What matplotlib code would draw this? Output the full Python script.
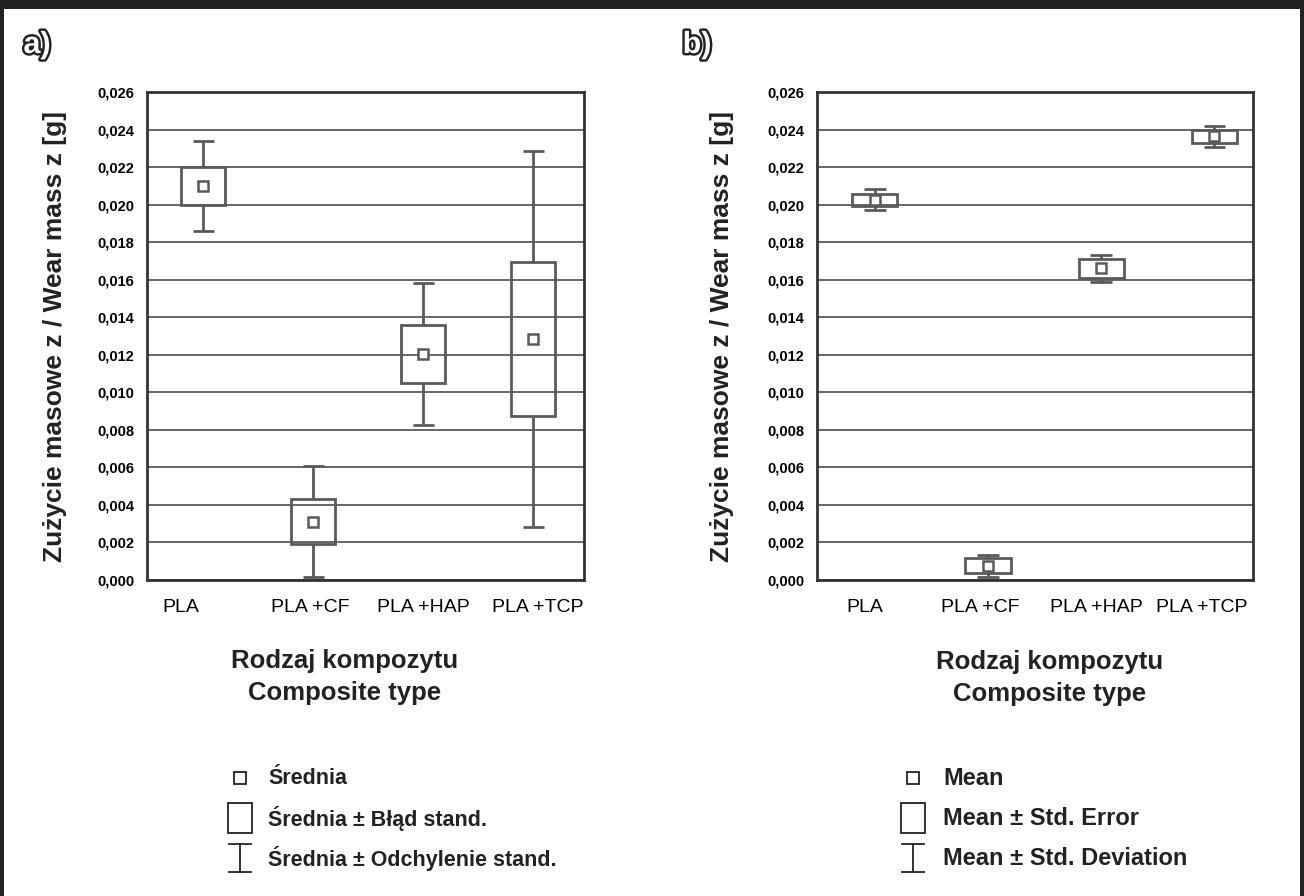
import matplotlib
matplotlib.use("Agg")
import matplotlib.pyplot as plt
import matplotlib.patheffects as pe
import matplotlib.transforms as mtransforms
from matplotlib.patches import Rectangle
from matplotlib.lines import Line2D
from matplotlib import font_manager
import numpy as np

# Data
categories = ["PLA", "PLA +CF", "PLA +HAP", "PLA +TCP"]

# panel a
mean_a = [0.0210, 0.0031, 0.01205, 0.01285]
se_a = [0.0010, 0.0012, 0.00155, 0.0041]
sd_a = [0.0024, 0.00295, 0.0038, 0.0100]

# panel b
mean_b = [0.02027, 0.00075, 0.0166, 0.02363]
se_b = [0.00032, 0.0004, 0.0005, 0.00033]
sd_b = [0.00056, 0.0006, 0.00073, 0.00056]

y_ticks = np.arange(0, 0.0261, 0.002)
y_tick_labels = [f"{v:.3f}".replace(".", ",") for v in y_ticks]

ylabel = "Zużycie masowe z / Wear mass z [g]"
xlabel = "Rodzaj kompozytu\nComposite type"
legend_pl = ["Średnia", "Średnia ± Błąd stand.", "Średnia ± Odchylenie stand."]
legend_en = ["Mean", "Mean ± Std. Error", "Mean ± Std. Deviation"]

names = {f.name for f in font_manager.fontManager.ttflist}
SANS = "Liberation Sans" if "Liberation Sans" in names else "DejaVu Sans"
NARROW = "Liberation Sans Narrow" if "Liberation Sans Narrow" in names else SANS
plt.rcParams["font.family"] = [SANS, "DejaVu Sans"]

W, H = 1304, 896
GRAY = "#5a5a5a"
DARK = "#222222"


def fx(x):
    return x / W


def fy(y):
    return 1 - y / H


fig = plt.figure(figsize=(W / 100, H / 100), dpi=100)

# dark frame around the picture
fig.add_artist(Rectangle((0, fy(9)), 1, 9 / H, transform=fig.transFigure, color=DARK, lw=0))
fig.add_artist(Rectangle((0, 0), fx(4), 1, transform=fig.transFigure, color=DARK, lw=0))
fig.add_artist(Rectangle((fx(1300), 0), fx(4), 1, transform=fig.transFigure, color=DARK, lw=0))


def draw_panel(left, right, means, ses, sds, xlim, label_dx):
    ax = fig.add_axes([fx(left), fy(580), fx(right - left), (580 - 92) / H])
    pos = np.arange(len(categories))
    means = np.array(means)
    ses = np.array(ses)
    sds = np.array(sds)

    ax.set_ylim(0, 0.026)
    ax.set_xlim(*xlim)
    ax.set_yticks(y_ticks)
    ax.set_yticklabels(y_tick_labels, fontfamily=NARROW, fontweight="bold", fontsize=10.5)
    ax.set_xticks(pos)
    ax.set_xticklabels(categories, fontfamily=NARROW, fontsize=14)
    ax.tick_params(axis="both", length=0)
    ax.tick_params(axis="y", pad=9)
    ax.tick_params(axis="x", pad=14)
    # STATISTICA-style label placement, slightly off the box centres
    for lab, dx in zip(ax.get_xticklabels(), label_dx):
        lab.set_transform(lab.get_transform() +
                          mtransforms.ScaledTranslation(dx / 100, 0, fig.dpi_scale_trans))
    ax.yaxis.grid(True, color=GRAY, lw=1.3)
    ax.set_axisbelow(True)
    for s in ax.spines.values():
        s.set_color("#333333")
        s.set_linewidth(2)

    box_w = 0.40
    cap_w = 0.19
    # box = mean +/- std. error (transparent)
    ax.bar(pos, 2 * ses, bottom=means - ses, width=box_w, facecolor="none",
           edgecolor=GRAY, linewidth=2, zorder=3)
    # whiskers = mean +/- std. deviation
    ax.vlines(pos, means + ses, means + sds, color=GRAY, lw=2, zorder=3)
    ax.vlines(pos, means - sds, means - ses, color=GRAY, lw=2, zorder=3)
    ax.hlines(means + sds, pos - cap_w / 2, pos + cap_w / 2, color=GRAY, lw=2, zorder=3)
    ax.hlines(means - sds, pos - cap_w / 2, pos + cap_w / 2, color=GRAY, lw=2, zorder=3)
    # mean
    ax.plot(pos, means, "s", ms=7, mfc="white", mec=GRAY, mew=1.8, zorder=4)
    return ax


ax_a = draw_panel(147, 584, mean_a, se_a, sd_a, (-0.51, 3.46), [-22, -3, 0, 4])
ax_b = draw_panel(817, 1253, mean_b, se_b, sd_b, (-0.51, 3.34), [-10, -8, -5, -13])

# axis titles
for xc in (55, 722):
    fig.text(fx(xc), fy(337), ylabel, rotation=90, ha="center", va="center",
             fontsize=19, fontweight="bold", color=DARK)
fig.text(fx(345), fy(677), xlabel, ha="center", va="center", fontsize=18.5,
         fontweight="bold", color=DARK, linespacing=1.4)
fig.text(fx(1050), fy(678), xlabel, ha="center", va="center", fontsize=18.5,
         fontweight="bold", color=DARK, linespacing=1.4)

# panel letters (outlined)
for txt, x in (("a)", 37), ("b)", 697)):
    fig.text(fx(x), fy(45), txt, ha="center", va="center", fontsize=22,
             fontweight="bold", color="white",
             path_effects=[pe.withStroke(linewidth=3.5, foreground=DARK)])


# legends
def draw_legend(xc, xt, labels, size):
    rows = [778, 818, 858]
    c = DARK
    # mean square
    fig.add_artist(Line2D([fx(xc)], [fy(rows[0])], marker="s", ms=8, mfc="white",
                          mec=c, mew=1.3, transform=fig.transFigure))
    # box
    fig.add_artist(Rectangle((fx(xc - 12), fy(rows[1] + 15)), 24 / W, 30 / H, fill=False,
                             ec=c, lw=1.3, transform=fig.transFigure))
    # whisker
    y0, y1 = rows[2] - 14, rows[2] + 14
    fig.add_artist(Line2D([fx(xc), fx(xc)], [fy(y0), fy(y1)], color=c, lw=1.3,
                          transform=fig.transFigure))
    for yy in (y0, y1):
        fig.add_artist(Line2D([fx(xc - 11), fx(xc + 11)], [fy(yy), fy(yy)], color=c, lw=1.3,
                              transform=fig.transFigure))
    for r, lab in zip(rows, labels):
        fig.text(fx(xt), fy(r), lab, ha="left", va="center", fontsize=size,
                 fontweight="bold", color=DARK)


draw_legend(240, 268, legend_pl, 15.5)
draw_legend(913, 943, legend_en, 17)

fig.savefig("out.png", dpi=100)
